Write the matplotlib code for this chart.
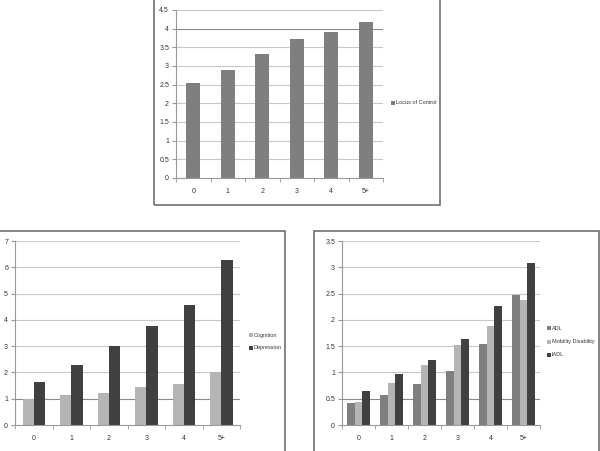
import matplotlib
matplotlib.use("Agg")
import matplotlib.pyplot as plt
import numpy as np
from matplotlib.patches import Rectangle

# ── Data ──────────────────────────────────────────────────────────────────────
categories = ["0", "1", "2", "3", "4", "5+"]

locus_of_control = [2.55, 2.9, 3.32, 3.72, 3.92, 4.18]

cognition  = [1.0, 1.15, 1.2, 1.43, 1.55, 2.03]
depression = [1.62, 2.28, 3.02, 3.75, 4.58, 6.27]

adl      = [0.42, 0.58, 0.78, 1.03, 1.55, 2.48]
mobility = [0.43, 0.80, 1.15, 1.53, 1.88, 2.37]
iadl     = [0.65, 0.97, 1.24, 1.64, 2.27, 3.09]

# ── Style ─────────────────────────────────────────────────────────────────────
W, H = 600, 451
MID   = "#7f7f7f"
LIGHT = "#b5b5b5"
DARK  = "#404040"
GRID  = "#c8c8c8"
FONT  = "Liberation Sans"
FS    = 5
LFS   = 4.0

fig = plt.figure(figsize=(W / 100, H / 100), dpi=100, facecolor="white")


def px_axes(x0, y0, x1, y1):
    """Axes from pixel box (top-left origin)."""
    return fig.add_axes([x0 / W, (H - y1) / H, (x1 - x0) / W, (y1 - y0) / H])


def px_box(x0, y0, x1, y1):
    fig.patches.append(Rectangle((x0 / W, (H - y1) / H), (x1 - x0) / W, (y1 - y0) / H,
                                 transform=fig.transFigure, fill=False,
                                 edgecolor="#707070", linewidth=1.2))


def style_axes(ax, ymax, step, dark_line=None):
    ax.set_xlim(-0.5, len(categories) - 0.5)
    ax.set_ylim(0, ymax)
    yt = np.arange(0, ymax + step / 2, step)
    ax.set_yticks(yt)
    ax.set_yticklabels([f"{v:g}" for v in yt], fontsize=FS, family=FONT, color="#333333")
    ax.set_xticks(range(len(categories)))
    ax.set_xticklabels(categories, fontsize=FS, family=FONT, color="#333333")
    ax.set_xticks(np.arange(-0.5, len(categories)), minor=True)
    ax.tick_params(axis="x", which="major", length=0, pad=7)
    ax.tick_params(axis="x", which="minor", length=3, color="#999999", direction="out")
    ax.tick_params(axis="y", length=3, color="#999999", pad=2)
    for v in yt[1:]:
        c = "#8a8a8a" if dark_line is not None and abs(v - dark_line) < 1e-9 else GRID
        ax.axhline(v, color=c, linewidth=0.8, zorder=0)
    for s in ["top", "right"]:
        ax.spines[s].set_visible(False)
    for s in ["left", "bottom"]:
        ax.spines[s].set_color("#999999")
        ax.spines[s].set_linewidth(0.8)


def add_legend(labels, colors, x, y, dy):
    for i, (lab, col) in enumerate(zip(labels, colors)):
        yy = y + i * dy
        fig.patches.append(Rectangle((x / W, (H - yy - 2) / H), 4 / W, 4 / H,
                                     transform=fig.transFigure, facecolor=col,
                                     edgecolor="none"))
        fig.text((x + 5) / W, (H - yy) / H, lab, fontsize=LFS, family=FONT,
                 color="#333333", va="center", ha="left")


x = np.arange(len(categories))

# ── Top: Locus of Control ─────────────────────────────────────────────────────
px_box(154, -2, 440, 205)
ax1 = px_axes(176, 10, 383, 178)
ax1.bar(x, locus_of_control, width=0.4, color=MID, zorder=2)
style_axes(ax1, 4.5, 0.5, dark_line=4.0)
add_legend(["Locus of Control"], [MID], 391, 103, 13)

# ── Bottom left: Cognition / Depression ───────────────────────────────────────
px_box(-2, 231, 285, 453)
ax2 = px_axes(15, 241, 240, 425)
bw = 0.3
ax2.bar(x - bw / 2, cognition, width=bw, color=LIGHT, zorder=2)
ax2.bar(x + bw / 2, depression, width=bw, color=DARK, zorder=2)
style_axes(ax2, 7, 1, dark_line=1)
add_legend(["Cognition", "Depression"], [LIGHT, DARK], 249, 335, 13)

# ── Bottom right: ADL / Mobility / IADL ───────────────────────────────────────
px_box(314, 231, 599, 453)
ax3 = px_axes(342, 241, 540, 425)
bw = 0.24
ax3.bar(x - bw, adl, width=bw, color=MID, zorder=2)
ax3.bar(x, mobility, width=bw, color=LIGHT, zorder=2)
ax3.bar(x + bw, iadl, width=bw, color=DARK, zorder=2)
style_axes(ax3, 3.5, 0.5, dark_line=0.5)
add_legend(["ADL", "Mobility Disability", "IADL"], [MID, LIGHT, DARK], 547, 328, 13.5)

fig.savefig("out.png", dpi=100, facecolor="white")
